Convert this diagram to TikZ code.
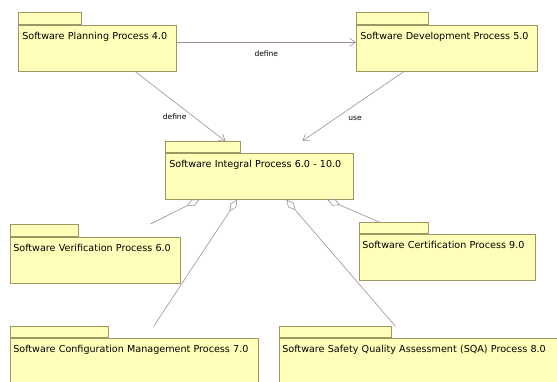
\documentclass[tikz,border=0pt]{standalone}
\usepackage{fontspec}
\setmainfont{DejaVu Sans}
\usetikzlibrary{arrows.meta}
\usetikzlibrary{positioning}
\definecolor{pkgfill}{RGB}{255,255,186}
\definecolor{pkgline}{RGB}{160,150,100}
\definecolor{linkgray}{RGB}{160,140,150}

\begin{document}
\begin{tikzpicture}[x=1pt,y=-1pt]
\tikzstyle{mybox}=[draw=pkgline,line width=0.6pt,fill=pkgfill,anchor=north west,inner sep=4pt,align=left,text height=10pt,font=\fontsize{9.6}{11}\selectfont];
\tikzstyle{mytab}=[draw=pkgline,line width=0.6pt,fill=pkgfill,anchor=south west,inner sep=0pt,minimum height=12pt];
\tikzstyle{myarrow}=[draw=linkgray,line width=0.6pt,-{Straight Barb[length=6pt,width=8pt]}];
\tikzstyle{mydiamond}=[draw=linkgray,line width=0.6pt,{Diamond[open,length=14pt,width=7pt]}-];
\tikzstyle{mylabel}=[font=\fontsize{7.5}{9}\selectfont];

\clip (0,0) rectangle (557,381);

% top row
\node[mybox,text width=150pt,text depth=28pt] (plan) at (18,25) {Software Planning Process 4.0};
\node[mytab,minimum width=63pt] (plantab) at (plan.north west) {};
\node[mybox,text width=173pt,text depth=28pt] (dev) at (356,25) {Software Development Process 5.0};
\node[mytab,minimum width=72pt] (devtab) at (dev.north west) {};

% middle
\node[mybox,text width=180pt,text depth=28pt] (int) at (165,153) {Software Integral Process 6.0 - 10.0};
\node[mytab,minimum width=75pt,minimum height=11pt] (inttab) at (int.north west) {};

\node[mybox,inner xsep=3pt,text width=164pt,text depth=28pt] (ver) at (10,237) {Software Verification Process 6.0};
\node[mytab,minimum width=68pt] (vertab) at (ver.north west) {};
\node[mybox,inner xsep=3pt,text width=170pt,text depth=28pt] (cert) at (359,234) {Software Certification Process 9.0};
\node[mytab,minimum width=69pt,minimum height=11pt] (certtab) at (cert.north west) {};

% bottom row
\node[mybox,inner xsep=3pt,text width=242pt,text depth=42pt] (cfg) at (10,338) {Software Configuration Management Process 7.0};
\node[mytab,minimum width=98pt,minimum height=11pt] (cfgtab) at (cfg.north west) {};
\node[mybox,inner xsep=3pt,text width=284pt,text depth=42pt] (sqa) at (279,338) {Software Safety Quality Assessment (SQA) Process 8.0};
\node[mytab,minimum width=112pt,minimum height=11pt] (sqatab) at (sqa.north west) {};

% dependencies
\draw[myarrow] ([yshift=6pt]plan.east) -- ([yshift=6pt]dev.west) node[midway,below=5pt,mylabel]{define};
\draw[myarrow] ([xshift=38pt]plan.south) -- ([xshift=-15pt]inttab.north east) node[pos=0.65,left=4pt,mylabel]{define};
\draw[myarrow] ([xshift=-43pt]dev.south) -- ([shift={(43pt,12pt)}]int.north) node[pos=0.67,right=9pt,mylabel]{use};

% aggregations
\draw[mydiamond] ([xshift=-60pt]int.south) -- ([shift={(-30pt,13pt)}]ver.north east);
\draw[mydiamond] ([xshift=-22pt]int.south) -- ([xshift=45pt]cfgtab.north east);
\draw[mydiamond] ([xshift=27pt]int.south) -- ([xshift=4pt]sqatab.north east);
\draw[mydiamond] ([xshift=68pt]int.south) -- ([xshift=21pt]certtab.north west);

\end{tikzpicture}
\end{document}
